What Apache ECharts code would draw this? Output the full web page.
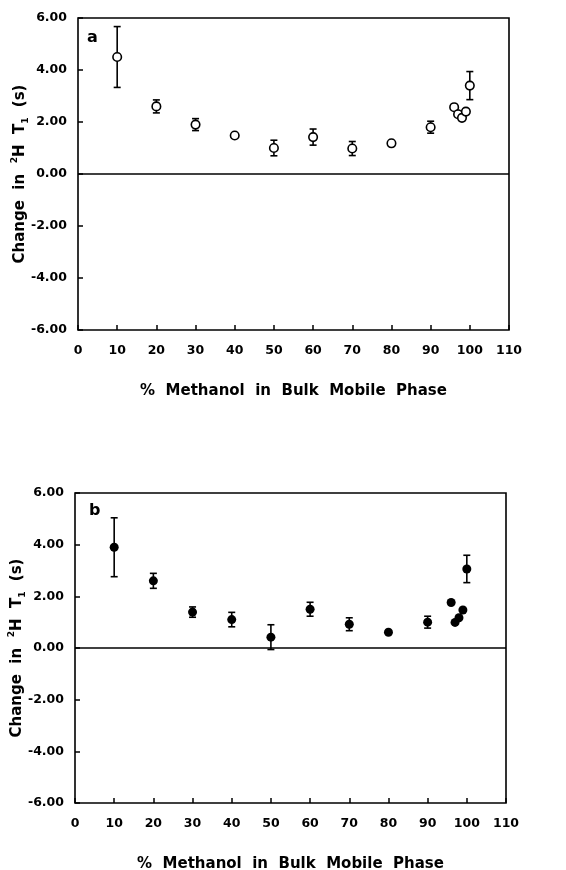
<!DOCTYPE html>
<html>
<head>
<meta charset="utf-8">
<script src="https://cdn.jsdelivr.net/npm/echarts@6/dist/echarts.min.js"></script>
<style>
  html, body { margin: 0; padding: 0; background: #fff; }
  #chart { width: 566px; height: 870px; }
</style>
</head>
<body>
<div id="chart"></div>
<script>
// % methanol values
var methanolA = [10, 20, 30, 40, 50, 60, 70, 80, 90, 96, 97, 98, 99, 100];
var changeA   = [4.5, 2.6, 1.9, 1.48, 1.0, 1.42, 0.98, 1.18, 1.8, 2.57, 2.3, 2.16, 2.4, 3.4];
var errA      = [1.17, 0.25, 0.23, 0, 0.3, 0.31, 0.27, 0, 0.23, 0, 0, 0, 0, 0.54];

var methanolB = [10, 20, 30, 40, 50, 60, 70, 80, 90, 96, 97, 98, 99, 100];
var changeB   = [3.9, 2.6, 1.39, 1.1, 0.42, 1.5, 0.92, 0.61, 1.0, 1.76, 0.99, 1.17, 1.47, 3.06];
var errB      = [1.14, 0.29, 0.2, 0.28, 0.48, 0.27, 0.25, 0, 0.23, 0, 0, 0, 0, 0.53];

var FONT = 'DejaVu Sans';

function points(xs, ys) {
    var d = [];
    for (var i = 0; i < xs.length; i++) d.push([xs[i], ys[i]]);
    return d;
}

function bars(xs, ys, es) {
    var d = [];
    for (var i = 0; i < xs.length; i++) {
        if (es[i] > 0) d.push([xs[i], ys[i] - es[i], ys[i] + es[i]]);
    }
    return d;
}

function renderBar(params, api) {
    var lo = api.coord([api.value(0), api.value(1)]);
    var hi = api.coord([api.value(0), api.value(2)]);
    var w = 3.5;
    var st = { stroke: '#000', lineWidth: 1.6 };
    return {
        type: 'group',
        children: [
            { type: 'line', shape: { x1: lo[0], y1: lo[1], x2: hi[0], y2: hi[1] }, style: st },
            { type: 'line', shape: { x1: lo[0] - w, y1: lo[1], x2: lo[0] + w, y2: lo[1] }, style: st },
            { type: 'line', shape: { x1: hi[0] - w, y1: hi[1], x2: hi[0] + w, y2: hi[1] }, style: st }
        ]
    };
}

function xAxisOpt(idx) {
    return {
        type: 'value', gridIndex: idx, min: 0, max: 110, interval: 10,
        name: '%  Methanol  in  Bulk  Mobile  Phase',
        nameLocation: 'middle', nameGap: 54, nameMoveOverlap: false,
        nameTextStyle: { fontFamily: FONT, fontWeight: 'bold', fontSize: 15, color: '#000' },
        axisLine: { show: false, onZero: false },
        axisTick: { show: true, inside: true, length: 5, lineStyle: { color: '#000', width: 1.5 } },
        axisLabel: { margin: 14, fontFamily: FONT, fontWeight: 'bold', fontSize: 12.5, color: '#000' },
        splitLine: { show: false }
    };
}

function yAxisOpt(idx) {
    return {
        type: 'value', gridIndex: idx, min: -6, max: 6, interval: 2,
        name: '{n|Change  in  }{sup|2}{n|H  T}{sub|1}{n|  (s)}',
        nameLocation: 'middle', nameGap: 48, nameRotate: 90, nameMoveOverlap: false,
        nameTextStyle: {
            fontFamily: FONT, fontWeight: 'bold', fontSize: 15, color: '#000',
            rich: {
                n: { fontFamily: FONT, fontWeight: 'bold', fontSize: 15, color: '#000', lineHeight: 20 },
                sup: { fontFamily: FONT, fontWeight: 'bold', fontSize: 9, color: '#000', verticalAlign: 'top', lineHeight: 20, padding: [0, 0, 5, 0] },
                sub: { fontFamily: FONT, fontWeight: 'bold', fontSize: 9, color: '#000', verticalAlign: 'bottom', lineHeight: 20, padding: [3, 0, 0, 0] }
            }
        },
        axisLine: { show: false, onZero: false },
        axisTick: { show: true, inside: true, length: 5, lineStyle: { color: '#000', width: 1.5 } },
        axisLabel: {
            margin: 11, fontFamily: FONT, fontWeight: 'bold', fontSize: 12.5, color: '#000',
            formatter: function (v) { return v.toFixed(2); }
        },
        splitLine: { show: false }
    };
}

function panelSeries(idx, xs, ys, es, filled) {
    return [
        {
            type: 'custom', xAxisIndex: idx, yAxisIndex: idx,
            renderItem: renderBar, data: bars(xs, ys, es), z: 2, silent: true
        },
        {
            type: 'scatter', xAxisIndex: idx, yAxisIndex: idx,
            symbol: 'circle', symbolSize: filled ? 9 : 8.5,
            itemStyle: filled
                ? { color: '#000', opacity: 1 }
                : { color: '#fff', borderColor: '#000', borderWidth: 1.6, opacity: 1 },
            data: points(xs, ys), z: 3,
            markLine: {
                silent: true, symbol: 'none', label: { show: false },
                lineStyle: { color: '#000', width: 1.6, type: 'solid' },
                data: [{ yAxis: 0 }]
            }
        }
    ];
}

var dom = document.getElementById('chart');
var myChart = echarts.init(dom, null, { renderer: 'canvas' });

var option = {
    animation: false,
    backgroundColor: '#fff',
    grid: [
        { left: 78, right: 57, top: 18, height: 312, show: true, borderColor: '#000', borderWidth: 1.6,
          backgroundColor: 'transparent', containLabel: false, outerBoundsMode: 'none' },
        { left: 75, right: 60, top: 493, height: 310, show: true, borderColor: '#000', borderWidth: 1.6,
          backgroundColor: 'transparent', containLabel: false, outerBoundsMode: 'none' }
    ],
    xAxis: [xAxisOpt(0), xAxisOpt(1)],
    yAxis: [yAxisOpt(0), yAxisOpt(1)],
    graphic: [
        { type: 'text', left: 87, top: 30, style: { text: 'a', font: 'bold 16px ' + FONT, fill: '#000' } },
        { type: 'text', left: 89, top: 503, style: { text: 'b', font: 'bold 16px ' + FONT, fill: '#000' } }
    ],
    series: panelSeries(0, methanolA, changeA, errA, false)
        .concat(panelSeries(1, methanolB, changeB, errB, true))
};

myChart.setOption(option);
window.addEventListener('resize', myChart.resize);
</script>
</body>
</html>
